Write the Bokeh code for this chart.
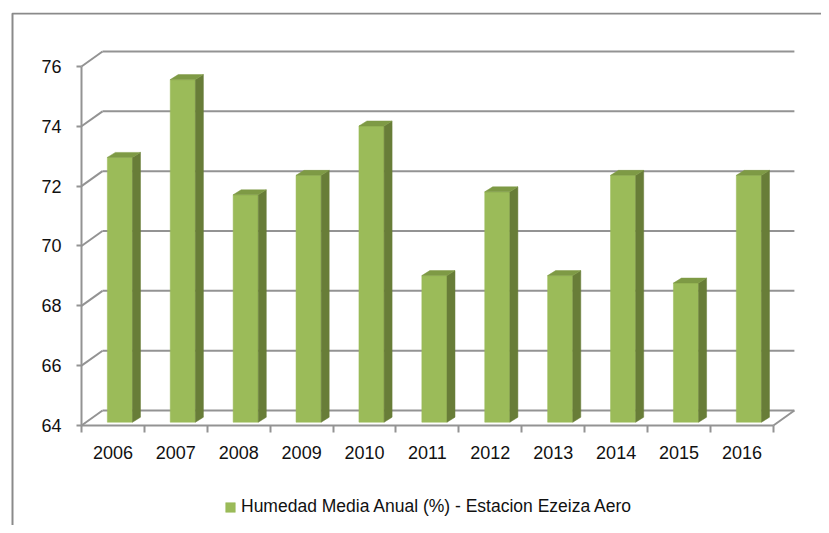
from bokeh.plotting import figure
from bokeh.models import FixedTicker, Legend, LegendItem, Range1d, BoxAnnotation
from bokeh.embed import file_html
from bokeh.resources import INLINE

years = ["2006", "2007", "2008", "2009", "2010", "2011", "2012", "2013", "2014", "2015", "2016"]
humedad = [72.85, 75.45, 71.6, 72.25, 73.9, 68.9, 71.7, 68.9, 72.25, 68.65, 72.25]
y_ticks = [64, 66, 68, 70, 72, 74, 76]
series_name = "Humedad Media Anual (%) - Estacion Ezeiza Aero"

FONT = "'Liberation Sans', Arial, sans-serif"
GRID = "#939393"
FRONT = "#9bbb59"
SIDE = "#687d38"
TOP = "#7e9a45"

# 3D projection style (oblique offsets)
DX, DY = 0.334, 0.5          # wall depth offset (category units, value units)
FX, FY = 0.111, 0.11         # bar front-face offset
BW = 0.4                     # bar width
BX, BY = 0.127, 0.167        # bar depth

n = len(years)
base = y_ticks[0]
x_left = -0.5
x_right = n - 0.5

p = figure(width=821, height=525, output_backend="svg", toolbar_location=None,
           x_range=Range1d(-1.6288, 11.265), y_range=Range1d(60.658, 77.803),
           min_border_left=10, min_border_top=12, min_border_right=0, min_border_bottom=0)
p.outline_line_color = None
p.xgrid.visible = False
p.ygrid.visible = False
p.background_fill_color = "white"
p.border_fill_color = "white"

# outer chart-area border (only top/left visible in the window)
p.add_layout(BoxAnnotation(left=12, top=13, right=3000, bottom=3000,
                           left_units="canvas", right_units="canvas",
                           top_units="canvas", bottom_units="canvas",
                           fill_alpha=0, line_color="#8a8a8a", line_alpha=1.0,
                           line_width=2, level="underlay"))

# back wall gridlines and left diagonals
p.segment(x0=[x_left + DX] * len(y_ticks), y0=[v + DY for v in y_ticks],
          x1=[x_right + DX] * len(y_ticks), y1=[v + DY for v in y_ticks],
          line_color=GRID, line_width=2)
p.segment(x0=[x_left] * len(y_ticks), y0=y_ticks,
          x1=[x_left + DX] * len(y_ticks), y1=[v + DY for v in y_ticks],
          line_color=GRID, line_width=2)
p.segment(x0=[x_right], y0=[base], x1=[x_right + DX], y1=[base + DY],
          line_color=GRID, line_width=2)

# bars
fx, fy, sx, sy, tx, ty = [], [], [], [], [], []
for i, v in enumerate(humedad):
    l = i - BW / 2 + FX
    r = i + BW / 2 + FX
    b = base + FY
    t = v + FY
    fx.append([l, r, r, l]); fy.append([b, b, t, t])
    sx.append([r, r + BX, r + BX, r]); sy.append([b, b + BY, t + BY, t])
    tx.append([l, r, r + BX, l + BX]); ty.append([t, t, t + BY, t + BY])

front = p.patches(fx, fy, fill_color=FRONT, line_color=FRONT, line_width=0.5)
p.patches(sx, sy, fill_color=SIDE, line_color=SIDE, line_width=0.5)
p.patches(tx, ty, fill_color=TOP, line_color=TOP, line_width=0.5)

# axes
ya = p.yaxis[0]
ya.fixed_location = x_left
ya.ticker = FixedTicker(ticks=y_ticks)
ya.bounds = (64, 76)
ya.axis_line_color = GRID
ya.axis_line_width = 2
ya.major_tick_line_color = GRID
ya.major_tick_line_width = 2
ya.major_tick_out = 5
ya.major_tick_in = 0
ya.minor_tick_line_color = None
ya.major_label_standoff = 15
ya.major_label_text_font = FONT
ya.major_label_text_font_size = "18px"
ya.major_label_text_color = "#111111"

xa = p.xaxis[0]
xa.fixed_location = base
xa.ticker = FixedTicker(ticks=list(range(n)), minor_ticks=[i - 0.5 for i in range(n + 1)])
xa.major_label_overrides = {i: y for i, y in enumerate(years)}
xa.bounds = (x_left, x_right)
xa.axis_line_color = GRID
xa.axis_line_width = 2
xa.major_tick_line_color = None
xa.major_tick_out = 0
xa.major_tick_in = 0
xa.minor_tick_line_color = GRID
xa.minor_tick_line_width = 2
xa.minor_tick_out = 7
xa.minor_tick_in = 0
xa.major_label_standoff = 13
xa.major_label_text_font = FONT
xa.major_label_text_font_size = "18px"
xa.major_label_text_color = "#111111"

legend = Legend(items=[LegendItem(label=series_name, renderers=[front])],
                location=(214, 8), orientation="horizontal",
                border_line_color=None, background_fill_alpha=0,
                glyph_width=12, glyph_height=12, label_standoff=5,
                label_text_font=FONT, label_text_font_size="17.5px",
                label_text_color="#111111", margin=0, padding=0)
p.add_layout(legend)

open("out.html", "w").write(file_html(p, INLINE))
